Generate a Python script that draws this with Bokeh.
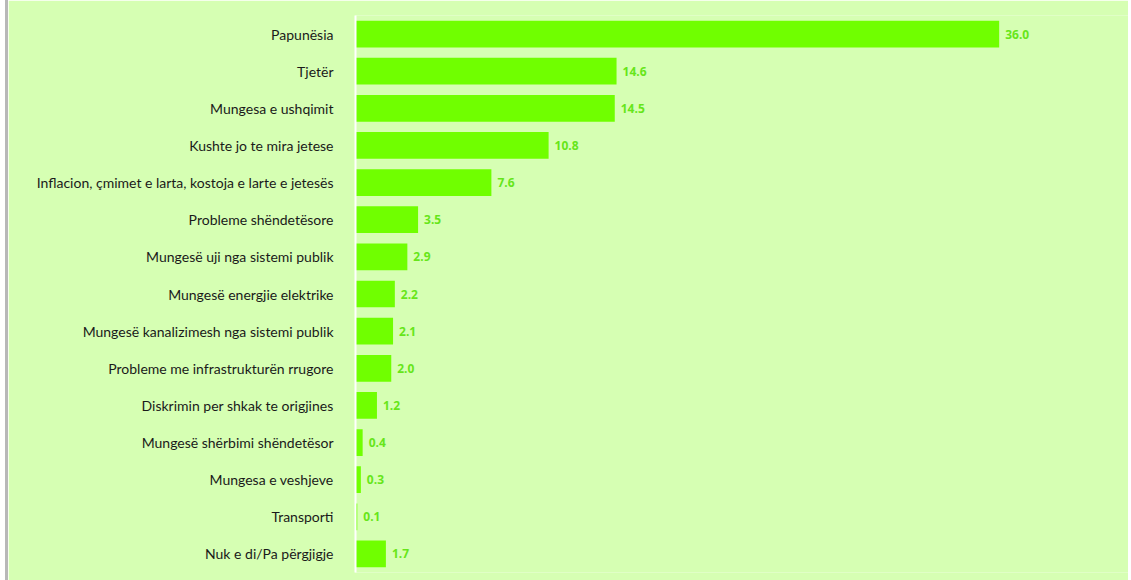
from bokeh.plotting import figure
from bokeh.models import ColumnDataSource, FactorRange, Range1d, LabelSet
from bokeh.embed import file_html
from bokeh.resources import INLINE
from bokeh.core.properties import value

categories = [
    "Papunësia",
    "Tjetër",
    "Mungesa e ushqimit",
    "Kushte jo te mira jetese",
    "Inflacion, çmimet e larta, kostoja e larte e jetesës",
    "Probleme shëndetësore",
    "Mungesë uji nga sistemi publik",
    "Mungesë energjie elektrike",
    "Mungesë kanalizimesh nga sistemi publik",
    "Probleme me infrastrukturën rrugore",
    "Diskrimin per shkak te origjines",
    "Mungesë shërbimi shëndetësor",
    "Mungesa e veshjeve",
    "Transporti",
    "Nuk e di/Pa përgjigje",
]
values = [36.0, 14.6, 14.5, 10.8, 7.6, 3.5, 2.9, 2.2, 2.1, 2.0, 1.2, 0.4, 0.3, 0.1, 1.7]

BG = "#d6ffb3"
BAR = "#70ff00"
LBL = "#66e619"

src = ColumnDataSource(dict(
    cat=categories,
    val=values,
    txt=[f"{v:.1f}" for v in values],
))

p = figure(
    width=1123, height=580,
    y_range=FactorRange(*reversed(categories), range_padding=0),
    x_range=Range1d(0, 43.4),
    output_backend="svg", toolbar_location=None,
    background_fill_color=BG, border_fill_color=BG,
    min_border_left=347, min_border_right=0, min_border_top=15, min_border_bottom=8,
    outline_line_color=None,
)
p.styles = {"border-left": "3px solid #b8b8b8", "margin-left": "5px"}

p.hbar(y="cat", right="val", left=0, height=0.72, source=src, fill_color=BAR, line_color=None)

labels = LabelSet(x="val", y="cat", text="txt", source=src, x_offset=6, y_offset=0,
                  text_baseline="middle", text_color=LBL, text_font_size="12px",
                  text_font_style="bold", text_font=value("Open Sans"))
p.add_layout(labels)

p.xaxis.visible = False
p.xgrid.visible = False
p.ygrid.visible = False
yax = p.yaxis[0]
yax.axis_line_color = "white"
yax.axis_line_width = 2
yax.major_tick_line_color = None
yax.minor_tick_line_color = None
yax.major_label_standoff = 16
yax.major_label_text_font = "Lato"
yax.major_label_text_font_size = "14px"
yax.major_label_text_color = "#1a1a1a"

open("out.html", "w").write(file_html(p, INLINE))
